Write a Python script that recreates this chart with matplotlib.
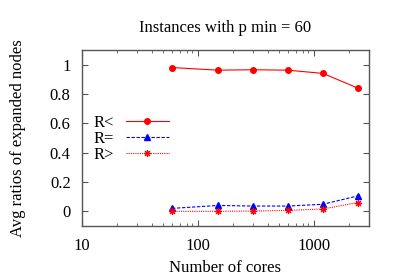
import numpy as np
import matplotlib.pyplot as plt

plt.rcParams["font.family"] = "Liberation Serif"

cores = [60, 150, 300, 600, 1200, 2400]
r_less = [0.98, 0.962, 0.965, 0.962, 0.94, 0.84]
r_equal = [0.02, 0.04, 0.036, 0.036, 0.048, 0.105]
r_more = [0.0, 0.0, 0.002, 0.006, 0.016, 0.06]

fig = plt.figure(figsize=(3.99, 2.79), dpi=100)
ax = fig.add_axes([0.205, 0.19, 0.72, 0.631])

ax.plot(cores, r_less, color='red', lw=0.8, marker='o', ms=4, label='R<')
ax.plot(cores, r_equal, color='blue', lw=0.8, ls=(0, (3, 1.5)), marker='^', ms=4, label='R=')
ax.plot(cores, r_more, color='red', lw=0.8, ls=(0, (1, 1)), marker=(8, 2, 0), ms=5, mew=0.8, label='R>')

ax.set_xscale('log')
ax.set_xlim(10, 3000)
ax.set_ylim(-0.1, 1.1)
ax.set_yticks([0, 0.2, 0.4, 0.6, 0.8, 1])
ax.set_yticklabels(['0', '0.2', '0.4', '0.6', '0.8', '1'])
ax.set_xticks([10, 100, 1000])
ax.set_xticklabels(['10', '100', '1000'])
ax.tick_params(which='both', direction='in', top=True, right=True, labelsize=12, color='#555555')
ax.tick_params(which='major', length=4)
ax.tick_params(axis='y', pad=8)
ax.tick_params(axis='x', pad=9)
ax.tick_params(which='minor', length=2)
for s in ax.spines.values():
    s.set_color('#555555')
    s.set_linewidth(1.0)

ax.set_title('Instances with p min = 60', fontsize=12, pad=13)
ax.set_xlabel('Number of cores', fontsize=12, labelpad=4)
ax.set_ylabel('Avg ratios of expanded nodes', fontsize=12, labelpad=17)

ax.legend(loc='upper left', bbox_to_anchor=(0.0, 0.695), frameon=False, markerfirst=False,
          handlelength=2.6, fontsize=12, labelspacing=0.0, handletextpad=0.7, borderaxespad=0.3)

fig.savefig('out.png', dpi=100)
